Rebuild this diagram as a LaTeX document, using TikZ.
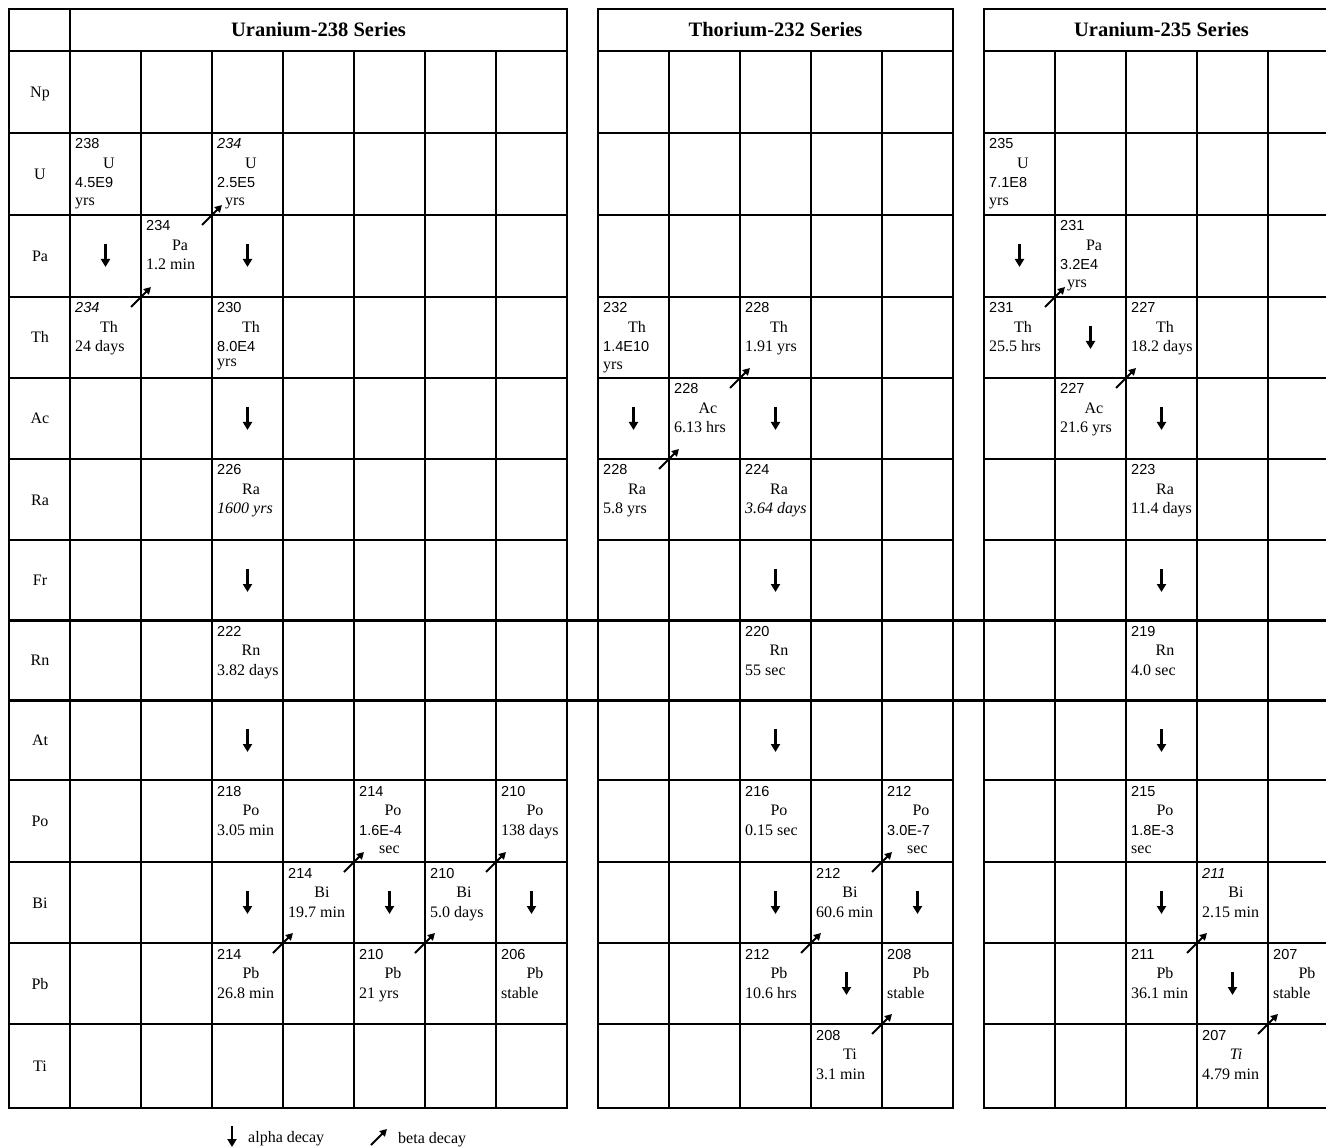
\documentclass[tikz,border=0pt]{standalone}
\usepackage{fontspec}
\setmainfont{Liberation Serif}
\setsansfont{Liberation Sans}
\usetikzlibrary{arrows.meta}

\tikzset{
  gridline/.style={black, line width=1.1pt},
  rnline/.style={black, line width=3pt},
  header/.style={inner sep=0, font=\fontsize{20.5}{24}\selectfont\bfseries},
  rowlabel/.style={anchor=base, inner sep=0, font=\fontsize{16}{19}\selectfont},
  masstext/.style={anchor=base west, inner sep=0, font=\fontsize{14.5}{16}\sffamily},
  symtext/.style={anchor=base, inner sep=0, font=\fontsize{16}{19}\selectfont},
  lifetext/.style={anchor=base west, inner sep=0, font=\fontsize{16}{19}\selectfont},
  alphaarrow/.style={line width=2.8pt, -{Triangle[length=8pt,width=9pt]}},
  betaarrow/.style={line width=2pt, -{Triangle[length=7pt,width=7.5pt]}},
}

\newcommand{\efont}{\fontsize{14.5}{16}\sffamily}
% nuclide cell: name, cell x, cell y, mass, symbol, half-life
\newcommand{\nuc}[6]{%
  \node[masstext] (#1m) at (#2+5,#3+16) {#4};
  \node[symtext] (#1s) at (#2+39,#3+35.5) {#5};
  \node[lifetext] (#1t) at (#2+5,#3+55) {#6};}
% fourth line of a cell
\newcommand{\nucline}[4]{\node[lifetext] (#1) at (#2+5,#3+73) {#4};}
\newcommand{\alphadecay}[2]{\draw[alphaarrow] (#1+35.5,#2+29) -- (#1+35.5,#2+52);}
\newcommand{\betadecay}[2]{\draw[betaarrow] (#1-10,#2+10) -- (#1+10,#2-10);}

\begin{document}
\begin{tikzpicture}[x=1pt, y=-1pt]
        \useasboundingbox (0,0) rectangle (1326,1147);
        \clip (0,0) rectangle (1326,1147);
        % tables
        \draw[gridline] (9,9) rectangle (567,1108);
        \draw[gridline] (598,9) rectangle (953,1108);
        \draw[gridline] (984,9) rectangle (1339,1108);
        \draw[gridline] (70,9) -- (70,1108);
        \foreach \y in {51,133,215,297,378,459,540,780,862,943,1024} {
          \draw[gridline] (9,\y) -- (567,\y);
          \draw[gridline] (598,\y) -- (953,\y);
          \draw[gridline] (984,\y) -- (1339,\y);
        }
        \foreach \x in {141,212,283,354,425,496} \draw[gridline] (\x,51) -- (\x,1108);
        \foreach \x in {669,740,811,882} \draw[gridline] (\x,51) -- (\x,1108);
        \foreach \x in {1055,1126,1197,1268} \draw[gridline] (\x,51) -- (\x,1108);
        \draw[rnline] (9,620) -- (1326,620);
        \draw[rnline] (9,700) -- (1326,700);
        % headers
        \node[header] (hdu238) at (318.5,30) {Uranium-238 Series};
        \node[header] (hdth232) at (775.5,30) {Thorium-232 Series};
        \node[header] (hdu235) at (1161.5,30) {Uranium-235 Series};
        % elements
        \foreach \lab/\y [count=\i] in {Np/92, U/174, Pa/256, Th/337.5, Ac/418.5, Ra/499.5, Fr/580, Rn/660, At/740, Po/821, Bi/902.5, Pb/983.5, Ti/1066}
          \node[rowlabel] (row\i) at (40,\y+5.5) {\lab};
        % U-238
        \nuc{u238}{70}{133}{238}{U}{\efont 4.5E9}
        \nucline{u238y}{70}{133}{yrs}
        \alphadecay{70}{215}
        \nuc{th234}{70}{297}{\textit{234}}{Th}{24 days}
        \betadecay{141}{297}
        \nuc{pa234}{141}{215}{234}{Pa}{1.2 min}
        \betadecay{212}{215}
        \nuc{u234}{212}{133}{\textit{234}}{U}{\efont 2.5E5}
        \nucline{u234y}{212}{133}{\hspace*{8pt}yrs}
        \alphadecay{212}{215}
        \nuc{th230}{212}{297}{230}{Th}{\efont 8.0E4}
        \nucline{th230y}{212}{294}{yrs}
        \alphadecay{212}{378}
        \nuc{ra226}{212}{459}{226}{Ra}{\textit{1600 yrs}}
        \alphadecay{212}{540}
        \nuc{rn222}{212}{620}{222}{Rn}{3.82 days}
        \alphadecay{212}{700}
        \nuc{po218}{212}{780}{218}{Po}{3.05 min}
        \alphadecay{212}{862}
        \nuc{pb214}{212}{943}{214}{Pb}{26.8 min}
        \betadecay{283}{943}
        \nuc{bi214}{283}{862}{214}{Bi}{19.7 min}
        \betadecay{354}{862}
        \nuc{po214}{354}{780}{214}{Po}{\efont 1.6E-4}
        \nucline{po214y}{354}{780}{\hspace*{20pt}sec}
        \alphadecay{354}{862}
        \nuc{pb210}{354}{943}{210}{Pb}{21 yrs}
        \betadecay{425}{943}
        \nuc{bi210}{425}{862}{210}{Bi}{5.0 days}
        \betadecay{496}{862}
        \nuc{po210}{496}{780}{210}{Po}{138 days}
        \alphadecay{496}{862}
        \nuc{pb206}{496}{943}{206}{Pb}{stable}
        % Th-232
        \nuc{th232}{598}{297}{232}{Th}{\efont 1.4E10}
        \nucline{th232y}{598}{297}{yrs}
        \alphadecay{598}{378}
        \nuc{ra228}{598}{459}{228}{Ra}{5.8 yrs}
        \betadecay{669}{459}
        \nuc{ac228}{669}{378}{228}{Ac}{6.13 hrs}
        \betadecay{740}{378}
        \nuc{th228}{740}{297}{228}{Th}{1.91 yrs}
        \alphadecay{740}{378}
        \nuc{ra224}{740}{459}{224}{Ra}{\textit{3.64 days}}
        \alphadecay{740}{540}
        \nuc{rn220}{740}{620}{220}{Rn}{55 sec}
        \alphadecay{740}{700}
        \nuc{po216}{740}{780}{216}{Po}{0.15 sec}
        \alphadecay{740}{862}
        \nuc{pb212}{740}{943}{212}{Pb}{10.6 hrs}
        \betadecay{811}{943}
        \nuc{bi212}{811}{862}{212}{Bi}{60.6 min}
        \betadecay{882}{862}
        \nuc{po212}{882}{780}{212}{Po}{\efont 3.0E-7}
        \nucline{po212y}{882}{780}{\hspace*{20pt}sec}
        \alphadecay{882}{862}
        \alphadecay{811}{943}
        \nuc{tl208}{811}{1024}{208}{Ti}{3.1 min}
        \betadecay{882}{1024}
        \nuc{pb208}{882}{943}{208}{Pb}{stable}
        % U-235
        \nuc{u235}{984}{133}{235}{U}{\efont 7.1E8}
        \nucline{u235y}{984}{133}{yrs}
        \alphadecay{984}{215}
        \nuc{th231}{984}{297}{231}{Th}{25.5 hrs}
        \betadecay{1055}{297}
        \nuc{pa231}{1055}{215}{231}{Pa}{\efont 3.2E4}
        \nucline{pa231y}{1055}{215}{\hspace*{7pt}yrs}
        \alphadecay{1055}{297}
        \nuc{ac227}{1055}{378}{227}{Ac}{21.6 yrs}
        \betadecay{1126}{378}
        \nuc{th227}{1126}{297}{227}{Th}{18.2 days}
        \alphadecay{1126}{378}
        \nuc{ra223}{1126}{459}{223}{Ra}{11.4 days}
        \alphadecay{1126}{540}
        \nuc{rn219}{1126}{620}{219}{Rn}{4.0 sec}
        \alphadecay{1126}{700}
        \nuc{po215}{1126}{780}{215}{Po}{\efont 1.8E-3}
        \nucline{po215y}{1126}{780}{sec}
        \alphadecay{1126}{862}
        \nuc{pb211}{1126}{943}{211}{Pb}{36.1 min}
        \betadecay{1197}{943}
        \nuc{bi211}{1197}{862}{\textit{211}}{Bi}{2.15 min}
        \alphadecay{1197}{943}
        \nuc{tl207}{1197}{1024}{207}{\textit{Ti}}{4.79 min}
        \betadecay{1268}{1024}
        \nuc{pb207}{1268}{943}{207}{Pb}{stable}
        % legend
        \draw[alphaarrow] (232,1126) -- (232,1147);
        \node[lifetext] (alphalabel) at (248,1142) {alpha decay};
        \draw[betaarrow] (371,1145) -- (387,1129);
        \node[lifetext] (betalabel) at (398,1143) {beta decay};
\end{tikzpicture}
\end{document}
